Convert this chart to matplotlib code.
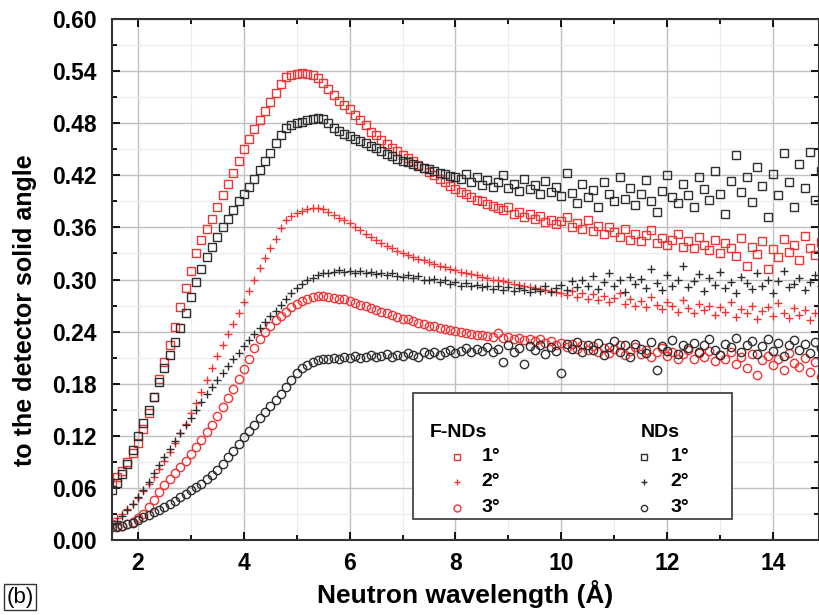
import numpy as np
import matplotlib
matplotlib.use("Agg")
import matplotlib.pyplot as plt
from matplotlib.patches import Rectangle
from matplotlib.ticker import MultipleLocator

plt.rcParams['font.family'] = ['Liberation Sans', 'DejaVu Sans']

# wavelength grid (A), 0.1 A steps from 1.5 to 14.9
wavelength = np.arange(15, 150) / 10.0

fnd_1 = [0.066, 0.072, 0.080, 0.090, 0.100, 0.112, 0.128, 0.146, 0.165, 0.185,
         0.205, 0.225, 0.245, 0.268, 0.290, 0.310, 0.330, 0.345, 0.358, 0.370,
         0.384, 0.397, 0.410, 0.423, 0.437, 0.450, 0.462, 0.473, 0.484, 0.494,
         0.504, 0.515, 0.525, 0.533, 0.536, 0.537, 0.538, 0.537, 0.536, 0.532,
         0.526, 0.519, 0.512, 0.506, 0.501, 0.496, 0.490, 0.484, 0.478, 0.470,
         0.466, 0.461, 0.456, 0.452, 0.448, 0.444, 0.440, 0.436, 0.432, 0.428,
         0.424, 0.420, 0.416, 0.412, 0.408, 0.404, 0.401, 0.398, 0.395, 0.392,
         0.390, 0.387, 0.385, 0.382, 0.380, 0.383, 0.376, 0.378, 0.372, 0.375,
         0.370, 0.373, 0.366, 0.369, 0.364, 0.367, 0.372, 0.360, 0.365, 0.358,
         0.368, 0.356, 0.362, 0.352, 0.360, 0.355, 0.349, 0.358, 0.346, 0.353,
         0.344, 0.351, 0.357, 0.342, 0.348, 0.340, 0.346, 0.353, 0.338, 0.344,
         0.336, 0.349, 0.340, 0.334, 0.345, 0.330, 0.342, 0.336, 0.327, 0.348,
         0.316, 0.338, 0.329, 0.344, 0.312, 0.335, 0.326, 0.347, 0.332, 0.340,
         0.322, 0.350, 0.336, 0.328, 0.343]

nd_1 = [0.058, 0.066, 0.076, 0.088, 0.104, 0.120, 0.135, 0.150, 0.165, 0.182,
        0.198, 0.213, 0.228, 0.244, 0.262, 0.280, 0.297, 0.312, 0.326, 0.338,
        0.349, 0.360, 0.370, 0.380, 0.390, 0.399, 0.407, 0.416, 0.426, 0.436,
        0.446, 0.457, 0.467, 0.474, 0.478, 0.480, 0.482, 0.484, 0.485, 0.486,
        0.485, 0.480, 0.475, 0.471, 0.468, 0.465, 0.462, 0.459, 0.457, 0.454,
        0.451, 0.448, 0.445, 0.442, 0.439, 0.437, 0.435, 0.433, 0.431, 0.429,
        0.427, 0.425, 0.423, 0.421, 0.419, 0.418, 0.416, 0.422, 0.412, 0.418,
        0.409, 0.415, 0.406, 0.412, 0.420, 0.405, 0.410, 0.402, 0.416, 0.404,
        0.409, 0.398, 0.414, 0.401, 0.407, 0.396, 0.423, 0.400, 0.388, 0.410,
        0.395, 0.403, 0.384, 0.412, 0.398, 0.390, 0.418, 0.393, 0.405, 0.386,
        0.399, 0.415, 0.391, 0.378, 0.402, 0.420, 0.395, 0.388, 0.410, 0.397,
        0.383, 0.418, 0.404, 0.392, 0.425, 0.399, 0.376, 0.413, 0.443, 0.401,
        0.418, 0.389, 0.430, 0.408, 0.372, 0.421, 0.397, 0.446, 0.412, 0.384,
        0.433, 0.405, 0.447, 0.392, 0.425]

fnd_2 = [0.020, 0.025, 0.030, 0.036, 0.042, 0.048, 0.056, 0.064, 0.073, 0.082,
         0.091, 0.101, 0.112, 0.123, 0.134, 0.146, 0.158, 0.171, 0.184, 0.198,
         0.212, 0.224, 0.237, 0.249, 0.261, 0.274, 0.287, 0.300, 0.313, 0.325,
         0.336, 0.347, 0.359, 0.368, 0.373, 0.377, 0.379, 0.381, 0.382, 0.382,
         0.381, 0.378, 0.374, 0.371, 0.368, 0.365, 0.361, 0.357, 0.353, 0.349,
         0.345, 0.342, 0.339, 0.336, 0.333, 0.331, 0.328, 0.326, 0.324, 0.322,
         0.320, 0.318, 0.316, 0.314, 0.312, 0.311, 0.309, 0.308, 0.306, 0.305,
         0.303, 0.302, 0.300, 0.299, 0.298, 0.297, 0.295, 0.294, 0.292, 0.291,
         0.290, 0.289, 0.288, 0.287, 0.286, 0.285, 0.282, 0.287, 0.280, 0.284,
         0.278, 0.283, 0.276, 0.281, 0.274, 0.279, 0.284, 0.272, 0.277, 0.270,
         0.275, 0.268, 0.280, 0.271, 0.266, 0.274, 0.269, 0.263, 0.276, 0.267,
         0.262, 0.272, 0.265, 0.270, 0.259, 0.268, 0.263, 0.274, 0.257, 0.266,
         0.261, 0.270, 0.255, 0.264, 0.268, 0.258, 0.273, 0.262, 0.256, 0.267,
         0.259, 0.265, 0.253, 0.262, 0.268]

nd_2 = [0.018, 0.022, 0.028, 0.034, 0.041, 0.049, 0.058, 0.067, 0.077, 0.086,
        0.096, 0.105, 0.114, 0.123, 0.132, 0.141, 0.150, 0.159, 0.168, 0.176,
        0.184, 0.192, 0.200, 0.208, 0.215, 0.223, 0.230, 0.237, 0.244, 0.251,
        0.258, 0.264, 0.271, 0.278, 0.284, 0.290, 0.295, 0.299, 0.302, 0.305,
        0.307, 0.308, 0.309, 0.311, 0.309, 0.310, 0.308, 0.310, 0.307, 0.309,
        0.306, 0.308, 0.305, 0.307, 0.304, 0.303, 0.305, 0.302, 0.304, 0.300,
        0.299, 0.301, 0.297, 0.299, 0.295, 0.297, 0.293, 0.296, 0.292, 0.294,
        0.291, 0.293, 0.289, 0.292, 0.288, 0.291, 0.287, 0.290, 0.288, 0.286,
        0.289, 0.287, 0.292, 0.286, 0.290, 0.294, 0.288, 0.298, 0.291, 0.300,
        0.293, 0.304, 0.289, 0.297, 0.308, 0.292, 0.299, 0.286, 0.303, 0.295,
        0.301, 0.290, 0.312, 0.296, 0.288, 0.305, 0.293, 0.300, 0.315, 0.291,
        0.298, 0.306, 0.287, 0.302, 0.294, 0.309, 0.290, 0.297, 0.285, 0.303,
        0.296, 0.289, 0.307, 0.293, 0.300, 0.284, 0.298, 0.310, 0.291, 0.295,
        0.302, 0.288, 0.297, 0.305, 0.292]

fnd_3 = [0.018, 0.016, 0.016, 0.018, 0.021, 0.025, 0.030, 0.038, 0.046, 0.055,
         0.063, 0.070, 0.077, 0.084, 0.091, 0.099, 0.107, 0.115, 0.124, 0.133,
         0.143, 0.153, 0.163, 0.174, 0.185, 0.197, 0.209, 0.221, 0.231, 0.240,
         0.247, 0.253, 0.258, 0.263, 0.268, 0.272, 0.275, 0.278, 0.280, 0.281,
         0.281, 0.280, 0.279, 0.278, 0.277, 0.275, 0.273, 0.271, 0.269, 0.267,
         0.265, 0.263, 0.261, 0.259, 0.257, 0.255, 0.254, 0.252, 0.250, 0.249,
         0.247, 0.246, 0.244, 0.243, 0.242, 0.241, 0.239, 0.238, 0.237, 0.236,
         0.236, 0.235, 0.234, 0.238, 0.233, 0.234, 0.231, 0.233, 0.230, 0.232,
         0.229, 0.231, 0.227, 0.229, 0.225, 0.227, 0.222, 0.226, 0.220, 0.224,
         0.219, 0.223, 0.217, 0.221, 0.215, 0.220, 0.224, 0.213, 0.218, 0.222,
         0.214, 0.219, 0.211, 0.216, 0.221, 0.212, 0.217, 0.209, 0.214, 0.219,
         0.208, 0.215, 0.211, 0.218, 0.206, 0.213, 0.209, 0.216, 0.203, 0.211,
         0.198, 0.214, 0.190, 0.207, 0.212, 0.201, 0.209, 0.196, 0.215, 0.204,
         0.199, 0.210, 0.193, 0.205, 0.188]

nd_3 = [0.015, 0.015, 0.016, 0.018, 0.020, 0.023, 0.026, 0.029, 0.032, 0.035,
        0.038, 0.042, 0.045, 0.049, 0.053, 0.057, 0.061, 0.065, 0.070, 0.075,
        0.081, 0.088, 0.095, 0.103, 0.111, 0.119, 0.126, 0.133, 0.140, 0.147,
        0.154, 0.161, 0.168, 0.176, 0.184, 0.192, 0.198, 0.202, 0.205, 0.207,
        0.208, 0.209, 0.210, 0.209, 0.211, 0.210, 0.212, 0.210, 0.211, 0.213,
        0.211, 0.212, 0.214, 0.211, 0.213, 0.212, 0.215, 0.213, 0.211, 0.216,
        0.214, 0.217, 0.213, 0.216, 0.219, 0.215, 0.218, 0.221, 0.216, 0.220,
        0.218, 0.222, 0.216, 0.220, 0.205, 0.224, 0.217, 0.221, 0.203, 0.223,
        0.219, 0.225, 0.214, 0.222, 0.218, 0.192, 0.226, 0.220, 0.228, 0.216,
        0.224, 0.219, 0.227, 0.213, 0.222, 0.229, 0.217, 0.224, 0.211, 0.226,
        0.220, 0.215, 0.228, 0.196, 0.223, 0.218, 0.230, 0.214, 0.225, 0.221,
        0.227, 0.216, 0.224, 0.231, 0.219, 0.213, 0.226, 0.222, 0.233, 0.217,
        0.225, 0.229, 0.214, 0.223, 0.232, 0.218, 0.227, 0.212, 0.224, 0.230,
        0.219, 0.226, 0.215, 0.228, 0.221]

angles = ['1°', '2°', '3°']
RED = '#f23434'
BLK = '#2e2e2e'

fig = plt.figure(figsize=(8.19, 6.15), dpi=100)
ax = fig.add_axes([0.1368, 0.122, 0.8632, 0.847])

styles = [('s', 6.0, 1.0), ('+', 6.0, 1.0), ('o', 6.0, 1.0)]
for series, (m, ms, mew) in zip([fnd_1, fnd_2, fnd_3], styles):
    ax.plot(wavelength, series, ls='none', marker=m, ms=ms, mew=mew,
            mfc='none', mec=RED, color=RED)
for series, (m, ms, mew) in zip([nd_1, nd_2, nd_3], styles):
    ax.plot(wavelength, series, ls='none', marker=m, ms=ms, mew=mew,
            mfc='none', mec=BLK, color=BLK)

ax.set_xlim(1.51, 14.87)
ax.set_ylim(0, 0.60)
ax.xaxis.set_major_locator(MultipleLocator(2))
ax.xaxis.set_minor_locator(MultipleLocator(1))
ax.yaxis.set_major_locator(MultipleLocator(0.06))
ax.yaxis.set_minor_locator(MultipleLocator(0.03))
ax.yaxis.set_major_formatter(plt.FuncFormatter(lambda v, p: '%.2f' % v))

ax.grid(which='major', color='#c0c0c0', lw=1.0)
ax.grid(which='minor', color='#ececec', lw=0.8)
ax.set_axisbelow(True)

ax.tick_params(which='both', direction='in', top=True, right=True,
               labelsize=16.5, width=1.3)
ax.tick_params(axis='y', pad=11)
ax.tick_params(axis='x', pad=9)
ax.tick_params(which='major', length=6)
ax.tick_params(which='minor', length=3.5)
for lab in ax.get_xticklabels() + ax.get_yticklabels():
    lab.set_fontweight('bold')
for sp in ax.spines.values():
    sp.set_linewidth(1.5)
    sp.set_color('#333333')

ax.set_xlabel('Neutron wavelength (Å)', fontsize=19, fontweight='bold', labelpad=3)
fig.text(0.031, 0.495, 'to the detector solid angle', rotation=90,
         fontsize=18, fontweight='bold', ha='center', va='center')

# legend drawn by hand (two titled columns)
tr = ax.transAxes
ax.add_patch(Rectangle((0.426, 0.040), 0.451, 0.242, transform=tr,
                       facecolor='white', edgecolor='#444444', lw=1.3, zorder=5))
ax.text(0.450, 0.207, 'F-NDs', transform=tr, fontsize=14, fontweight='bold',
        va='center', zorder=6)
ax.text(0.748, 0.207, 'NDs', transform=tr, fontsize=14, fontweight='bold',
        va='center', zorder=6)
rows = [0.160, 0.112, 0.062]
for (m, ms, mew), lab, yy in zip(styles, angles, rows):
    ax.plot([0.488], [yy], transform=tr, ls='none', marker=m, ms=ms - 1,
            mew=mew, mfc='none', mec=RED, zorder=6, clip_on=False)
    ax.text(0.523, yy, lab, transform=tr, fontsize=14, fontweight='bold',
            va='center', zorder=6)
    ax.plot([0.752], [yy], transform=tr, ls='none', marker=m, ms=ms - 1.5,
            mew=mew, mfc='none', mec=BLK, zorder=6, clip_on=False)
    ax.text(0.790, yy, lab, transform=tr, fontsize=14, fontweight='bold',
            va='center', zorder=6)

fig.text(0.008, 0.012, '(b)', fontsize=16, ha='left', va='bottom',
         bbox=dict(boxstyle='square,pad=0.12', fc='white', ec='#333333', lw=1.0))

fig.savefig('out.png', dpi=100)
